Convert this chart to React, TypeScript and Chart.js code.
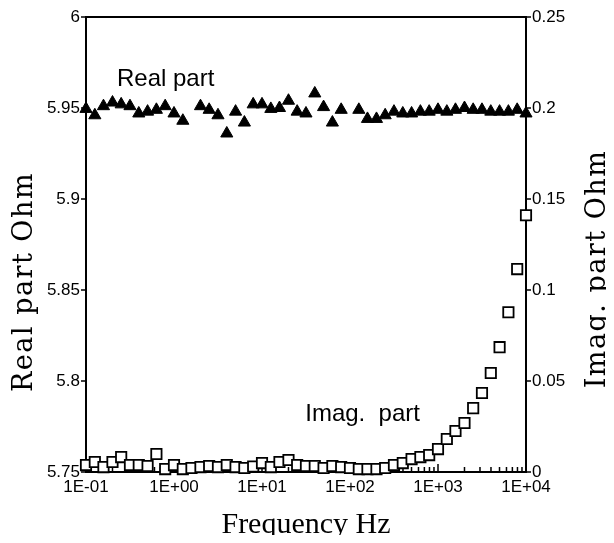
import React, { useEffect, useRef } from 'react';
import { Chart, registerables } from 'chart.js';

Chart.register(...registerables);

// ---- data ----
const frequencies = [
  0.1, 0.126, 0.158, 0.2, 0.251, 0.316, 0.398, 0.501, 0.631, 0.794,
  1, 1.26, 1.58, 2, 2.51, 3.16, 3.98, 5.01, 6.31, 7.94,
  10, 12.6, 15.8, 20, 25.1, 31.6, 39.8, 50.1, 63.1, 79.4,
  100, 126, 158, 200, 251, 316, 398, 501, 631, 794,
  1000, 1260, 1580, 2000, 2510, 3160, 3980, 5010, 6310, 7940, 10000,
];

const realPart: (number | null)[] = [
  5.9495, 5.946, 5.951, 5.953, 5.952, 5.951, 5.947, 5.948, 5.949, 5.951,
  5.947, 5.943, null, 5.951, 5.949, 5.946, 5.936, 5.948, 5.942, 5.952,
  5.952, 5.9495, 5.95, 5.954, 5.948, 5.947, 5.958, 5.9505, 5.942, 5.949,
  null, 5.949, 5.944, 5.944, 5.946, 5.948, 5.947, 5.947, 5.948, 5.948,
  5.949, 5.948, 5.949, 5.95, 5.949, 5.949, 5.948, 5.948, 5.948, 5.949, 5.947,
];

const imagPart: (number | null)[] = [
  0.0038, 0.0055, 0.0027, 0.0055, 0.0082, 0.0038, 0.0038, 0.0033, 0.0099, 0.0016,
  0.0038, 0.0016, 0.0022, 0.0027, 0.0033, 0.0027, 0.0038, 0.0027, 0.0022, 0.003,
  0.0049, 0.0027, 0.0055, 0.0066, 0.0038, 0.0033, 0.0033, 0.0022, 0.0033, 0.0027,
  0.0022, 0.0016, 0.0016, 0.0016, 0.0022, 0.0038, 0.0049, 0.0071, 0.0082, 0.0093,
  0.0126, 0.0181, 0.0225, 0.0269, 0.0351, 0.0434, 0.0544, 0.0686, 0.0878, 0.1115, 0.1411,
];

const xTickValues = [0.1, 1, 10, 100, 1000, 10000];
const xTickLabels = ['1E-01', '1E+00', '1E+01', '1E+02', '1E+03', '1E+04'];
const leftTickValues = [5.75, 5.8, 5.85, 5.9, 5.95, 6];
const leftTickLabels = ['5.75', '5.8', '5.85', '5.9', '5.95', '6'];
const rightTickValues = [0, 0.05, 0.1, 0.15, 0.2, 0.25];
const rightTickLabels = ['0', '0.05', '0.1', '0.15', '0.2', '0.25'];

const xTitle = 'Frequency Hz';
const leftTitle = 'Real part Ohm';
const rightTitle = 'Imag. part Ohm';
const realNote = 'Real part';
const imagNote = 'Imag.  part';
const realNoteAt = { x: 0.225, y: 5.962 };
const imagNoteAt = { x: 31, y: 0.028 };

const lookup = (vals: number[], labels: string[], v: number, log = false) => {
  const i = vals.findIndex((t) =>
    log ? Math.abs(Math.log10(t) - Math.log10(v)) < 1e-6 : Math.abs(t - v) < 1e-9
  );
  return i >= 0 ? labels[i] : '';
};

const tickFont = { family: 'Liberation Sans, Arial, sans-serif', size: 17 };

const decorPlugin = {
  id: 'decor',
  beforeDatasetsDraw(chart: any) {
    const { ctx, chartArea: a, scales } = chart;
    const x = scales.x, yl = scales.y, yr = scales.y1;
    ctx.save();
    ctx.strokeStyle = '#000';
    ctx.lineWidth = 2;
    ctx.strokeRect(a.left, a.top, a.right - a.left, a.bottom - a.top);
    ctx.lineWidth = 1.5;
    ctx.beginPath();
    xTickValues.forEach((dec, d) => {
      const px = x.getPixelForValue(dec);
      ctx.moveTo(px, a.bottom);
      ctx.lineTo(px, a.bottom - 8);
      if (d < xTickValues.length - 1) {
        for (let k = 2; k <= 9; k++) {
          const p = x.getPixelForValue(dec * k);
          ctx.moveTo(p, a.bottom);
          ctx.lineTo(p, a.bottom - 5);
        }
      }
    });
    leftTickValues.forEach((v) => {
      const py = yl.getPixelForValue(v);
      ctx.moveTo(a.left - 5, py);
      ctx.lineTo(a.left, py);
    });
    rightTickValues.forEach((v) => {
      const py = yr.getPixelForValue(v);
      ctx.moveTo(a.right, py);
      ctx.lineTo(a.right + 5, py);
    });
    ctx.stroke();
    ctx.restore();
  },
  afterDraw(chart: any) {
    const { ctx, chartArea: a, scales } = chart;
    ctx.save();
    ctx.fillStyle = '#000';
    // in-plot notes
    ctx.font = '24px "Liberation Sans", Arial, sans-serif';
    ctx.textAlign = 'left';
    ctx.textBaseline = 'alphabetic';
    ctx.fillText(realNote, scales.x.getPixelForValue(realNoteAt.x), scales.y.getPixelForValue(realNoteAt.y));
    ctx.fillText(imagNote, scales.x.getPixelForValue(imagNoteAt.x), scales.y1.getPixelForValue(imagNoteAt.y));
    // x title
    ctx.font = '30px "Liberation Serif", "Times New Roman", serif';
    ctx.textAlign = 'center';
    ctx.fillText(xTitle, (a.left + a.right) / 2, 533);
    // y titles (both read bottom to top)
    ctx.font = '27px "DejaVu Serif", serif';
    try { (ctx as any).letterSpacing = '1.5px'; } catch (e) {}
    ctx.save();
    ctx.translate(32, 282);
    ctx.rotate(-Math.PI / 2);
    ctx.fillText(leftTitle, 0, 0);
    ctx.restore();
    ctx.save();
    ctx.translate(605, 269);
    ctx.rotate(-Math.PI / 2);
    ctx.fillText(rightTitle, 0, 0);
    ctx.restore();
    ctx.restore();
  },
};

export default function App() {
  const ref = useRef<HTMLCanvasElement | null>(null);

  useEffect(() => {
    if (!ref.current) return;
    const realData = frequencies
      .map((f, i) => ({ x: f, y: realPart[i] }))
      .filter((p) => p.y !== null);
    const imagData = frequencies
      .map((f, i) => ({ x: f, y: imagPart[i] }))
      .filter((p) => p.y !== null);

    const chart = new Chart(ref.current, {
      type: 'scatter',
      data: {
        datasets: [
          {
            label: 'Real part',
            data: realData as any,
            yAxisID: 'y',
            pointStyle: 'triangle',
            pointRadius: 7,
            backgroundColor: '#000',
            borderColor: '#000',
            borderWidth: 1,
            showLine: false,
            clip: false as any,
          },
          {
            label: 'Imag. part',
            data: imagData as any,
            yAxisID: 'y1',
            pointStyle: 'rect',
            pointRadius: 7.3,
            backgroundColor: '#fff',
            borderColor: '#000',
            borderWidth: 1.8,
            showLine: false,
            clip: false as any,
          },
        ],
      },
      options: {
        responsive: false,
        animation: false,
        devicePixelRatio: 1,
        layout: { padding: { top: 17, left: 0, right: 0, bottom: 0 } },
        plugins: {
          legend: { display: false },
          tooltip: { enabled: false },
          title: { display: false },
        },
        scales: {
          x: {
            type: 'logarithmic',
            position: 'bottom',
            min: 0.1,
            max: 10000,
            afterBuildTicks: (s: any) => {
              s.ticks = xTickValues.map((v) => ({ value: v }));
            },
            afterFit: (s: any) => {
              s.height = 71;
            },
            grid: { display: false, drawTicks: false },
            border: { display: false },
            ticks: {
              autoSkip: false,
              maxRotation: 0,
              minRotation: 0,
              padding: 5,
              color: '#000',
              font: tickFont,
              callback: (v: any) => lookup(xTickValues, xTickLabels, Number(v), true),
            },
          },
          y: {
            type: 'linear',
            position: 'left',
            min: 5.75,
            max: 6,
            afterBuildTicks: (s: any) => {
              s.ticks = leftTickValues.map((v) => ({ value: v }));
            },
            afterFit: (s: any) => {
              s.width = 86;
            },
            grid: { display: false, drawTicks: false },
            border: { display: false },
            ticks: {
              padding: 6,
              color: '#000',
              font: tickFont,
              callback: (v: any) => lookup(leftTickValues, leftTickLabels, Number(v)),
            },
          },
          y1: {
            type: 'linear',
            position: 'right',
            min: 0,
            max: 0.25,
            afterBuildTicks: (s: any) => {
              s.ticks = rightTickValues.map((v) => ({ value: v }));
            },
            afterFit: (s: any) => {
              s.width = 88;
            },
            grid: { display: false, drawTicks: false },
            border: { display: false },
            ticks: {
              padding: 6,
              color: '#000',
              font: tickFont,
              callback: (v: any) => lookup(rightTickValues, rightTickLabels, Number(v)),
            },
          },
        },
      } as any,
      plugins: [decorPlugin],
    });
    return () => chart.destroy();
  }, []);

  return (
    <div style={{ margin: '-8px', width: 614, height: 543, background: '#fff' }}>
      <canvas ref={ref} width={614} height={543} style={{ display: 'block', width: 614, height: 543 }} />
    </div>
  );
}
